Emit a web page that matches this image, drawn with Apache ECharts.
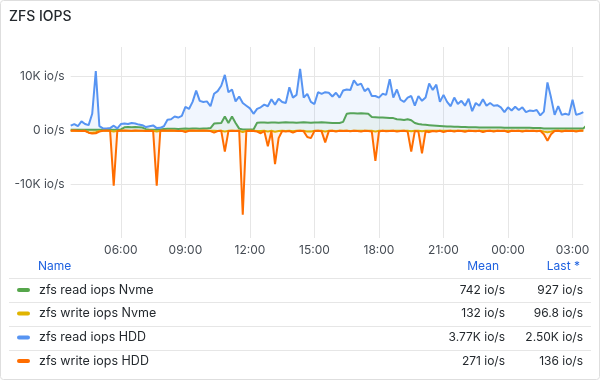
<!DOCTYPE html>
<html>
<head>
<meta charset="utf-8">
<script src="https://cdn.jsdelivr.net/npm/echarts@6/dist/echarts.min.js"></script>
<style>
html,body{margin:0;padding:0;background:#fff;}
#chart{width:600px;height:380px;}
</style>
</head>
<body>
<div id="chart"></div>
<script>
// ---- data ----
var startTime = '03:40';      // first sample
var stepMinutes = 10;         // sample spacing
var sampleCount = 144;

var readNvme = [50,50,50,50,50,50,50,50,50,50,50,50,50,50,100,
  500,550,500,550,500,450,150,50,50,50,
  100,200,250,250,250,200,250,300,250,
  300,300,250,300,300,350,
  1200,1250,1300,2500,1300,2500,1300,250,
  100,100,100,100,
  1350,1400,1400,1350,1400,1400,1350,1400,1450,1400,1400,1350,1400,1450,1400,1350,1400,1400,1450,1400,1350,1300,1300,1300,
  1500,3000,3100,3100,3050,3100,3050,3000,
  2400,2350,2300,2300,2250,2200,2200,
  2000,1950,1850,2000,1800,
  1300,1100,1000,950,900,850,800,750,700,
  650,650,600,600,550,550,500,500,500,450,450,450,450,450,450,450,
  400,400,400,400,400,400,400,400,350,350,350,
  300,300,300,300,300,300,300,300,300,300,300,300,
  927];

var writeNvme = [-150,-150,-200,-150,-150,-450,-500,-400,-200,-150,-150,-150,-300,-150,-150,-150,-150,-200,-150,-150,-150,-150,-150,-150,-300,
  -150,-150,-150,-150,-150,-200,-150,-150,-150,-150,-150,-150,-150,-150,-150,-150,-200,-150,-300,-150,-150,-150,-150,-400,-150,
  -150,-150,-200,-200,-150,-300,-150,-350,-200,-150,-200,-150,-250,-150,-150,-150,-300,-300,-150,-150,-150,-300,-150,-150,-200,
  -150,-150,-150,-200,-150,-150,-150,-150,-150,-150,-300,-150,-150,-150,-150,-150,-150,-150,-150,-150,-250,-150,-150,-250,-150,
  -150,-150,-150,-150,-150,-150,-150,-150,-150,-150,-150,-150,-150,-150,-150,-150,-150,-150,-150,-150,-150,-150,-150,-150,-150,
  -150,-150,-150,-150,-150,-150,-150,-300,-400,-300,-150,-150,-150,-150,-150,-150,-150,-150,-97];

var readHdd = [800,1100,700,1600,1100,900,3000,10900,700,300,300,350,800,300,1100,1200,1100,1300,1200,1000,
  900,550,700,850,350,400,700,1900,2000,2500,2300,2600,4300,3900,5200,7300,5400,5200,5300,4400,
  6700,7200,8200,10200,7000,7500,5300,6200,5000,4500,4000,3000,3900,4200,4700,4400,5700,4700,5800,5200,
  5000,7900,6000,6500,11300,6000,6700,5200,4800,7000,6700,7000,6900,6200,6900,6000,7300,7500,7400,9200,
  8300,8600,7200,7700,6300,6300,6000,6700,6500,9400,6000,7500,5600,5200,6000,6300,4500,6300,5400,6000,
  8600,7400,8400,5200,6500,5200,4400,6000,4800,5400,4500,5800,3500,5000,4500,5700,4500,5000,4500,4600,
  4200,3300,4200,3600,4300,3700,4200,3300,3600,3500,3700,2700,3400,8800,6000,2800,4400,2800,3000,2800,
  5600,2800,3000,3300];

var writeHdd = [-150,-100,-150,-200,-150,-500,-650,-600,-300,-150,-100,-200,-10300,-200,-150,-100,-150,-150,-100,-150,
  -150,-200,-150,-200,-10300,-150,-100,-150,-100,-150,-200,-150,-400,-150,-100,-150,-150,-100,-150,-200,
  -500,-200,-150,-4000,-200,-150,-200,-150,-15700,-200,-150,-200,-300,-600,-200,-3000,-200,-6300,-1500,-200,
  -300,-200,-500,-200,-150,-250,-1300,-1500,-200,-150,-250,-2300,-200,-150,-300,-150,-200,-150,-250,-150,
  -200,-300,-150,-200,-300,-5700,-300,-150,-250,-200,-150,-300,-200,-150,-300,-4000,-200,-300,-4300,-250,
  -400,-200,-300,-150,-400,-200,-150,-300,-150,-200,-350,-150,-200,-250,-150,-400,-200,-150,-300,-150,
  -200,-150,-400,-150,-200,-150,-300,-150,-200,-150,-250,-150,-800,-2000,-800,-200,-150,-300,-150,-200,
  -150,-300,-150,-136];

var seriesNames = ['zfs read iops Nvme','zfs write iops Nvme','zfs read iops HDD','zfs write iops HDD'];
var seriesMean = ['742 io/s','132 io/s','3.77K io/s','271 io/s'];
var seriesLast = ['927 io/s','96.8 io/s','2.50K io/s','136 io/s'];
var yTickValues = [-10000, 0, 10000];
var yTickLabels = ['-10K io/s', '0 io/s', '10K io/s'];
var xTickLabels = ['06:00','09:00','12:00','15:00','18:00','21:00','00:00','03:00'];

// ---- build ----
var colors = ['#56A64B','#E0B400','#5794F2','#FF6D00'];
var fills = ['rgba(86,166,75,0.10)','rgba(242,204,12,0.10)','rgba(87,148,242,0.12)','rgba(255,120,10,0.14)'];
var categories = [];
(function(){
  var p = startTime.split(':'); var m = (+p[0])*60 + (+p[1]);
  for (var i = 0; i < sampleCount; i++) {
    var t = (m + i*stepMinutes) % 1440;
    var h = Math.floor(t/60), mm = t%60;
    categories.push((h<10?'0':'')+h+':'+(mm<10?'0':'')+mm);
  }
})();
function isTick(idx, val){ return xTickLabels.indexOf(val) >= 0; }

var FONT = 'Inter, "Noto Sans", sans-serif';
var dataSets = [readNvme, writeNvme, readHdd, writeHdd];
var series = dataSets.map(function(d, k){
  return {
    name: seriesNames[k], type: 'line', data: d, showSymbol: false, symbol: 'none',
    lineStyle: {width: 2, color: colors[k]}, itemStyle: {color: colors[k]},
    areaStyle: {color: fills[k], origin: 0},
    emphasis: {disabled: true}, z: 2 + k
  };
});

var graphics = [
  {type:'rect', shape:{x:0.5,y:0.5,width:599,height:379,r:3}, style:{fill:'none',stroke:'#dedede',lineWidth:1}, silent:true},
  {type:'text', style:{x:9, y:17, text:'ZFS IOPS', font:'500 14px '+FONT, fill:'#24292e', verticalAlign:'middle'}},
  {type:'text', style:{x:38, y:266.5, text:'Name', font:'12px '+FONT, fill:'#1f62e0', verticalAlign:'middle'}},
  {type:'text', style:{x:499, y:266.5, text:'Mean', font:'12px '+FONT, fill:'#1f62e0', align:'right', verticalAlign:'middle'}},
  {type:'text', style:{x:580, y:266.5, text:'Last *', font:'12px '+FONT, fill:'#1f62e0', align:'right', verticalAlign:'middle'}}
];
var sepY = [278.5, 302.5, 326.5, 350.5];
var rowY = [290, 313.5, 337.5, 361];
for (var r = 0; r < 4; r++) {
  graphics.push({type:'line', shape:{x1:9,y1:sepY[r],x2:591,y2:sepY[r]}, style:{stroke:'#e6e6e6',lineWidth:1}, silent:true});
  graphics.push({type:'rect', shape:{x:17,y:rowY[r]-2,width:13,height:4,r:2}, style:{fill:colors[r]}});
  graphics.push({type:'text', style:{x:39, y:rowY[r], text:seriesNames[r], font:'12.5px '+FONT, fill:'#24292e', verticalAlign:'middle'}});
  graphics.push({type:'text', style:{x:505, y:rowY[r], text:seriesMean[r], font:'12px '+FONT, fill:'#24292e', align:'right', verticalAlign:'middle'}});
  graphics.push({type:'text', style:{x:583, y:rowY[r], text:seriesLast[r], font:'12px '+FONT, fill:'#24292e', align:'right', verticalAlign:'middle'}});
}

var chart = echarts.init(document.getElementById('chart'), null, {renderer:'canvas'});
chart.setOption({
  animation: false,
  backgroundColor: '#ffffff',
  grid: {left: 70.7, right: 16.7, top: 47, bottom: 142, containLabel: false},
  xAxis: {
    type: 'category', data: categories, boundaryGap: false,
    axisLine: {show: false}, axisTick: {show: false},
    axisLabel: {interval: isTick, margin: 6, fontSize: 12, color: '#464c54', fontFamily: FONT},
    splitLine: {show: true, interval: isTick, lineStyle: {color: '#e6e6e6', width: 1}}
  },
  yAxis: {
    type: 'value', min: -20000, max: 15370, interval: 10000,
    axisLine: {show: false}, axisTick: {show: false},
    axisLabel: {margin: 6, fontSize: 12, color: '#464c54', fontFamily: FONT,
      formatter: function(v){ var i = yTickValues.indexOf(v); return i >= 0 ? yTickLabels[i] : ''; }},
    splitLine: {show: true, showMinLine: false, showMaxLine: false, lineStyle: {color: '#e6e6e6', width: 1}}
  },
  series: series,
  graphic: graphics
});
</script>
</body>
</html>
